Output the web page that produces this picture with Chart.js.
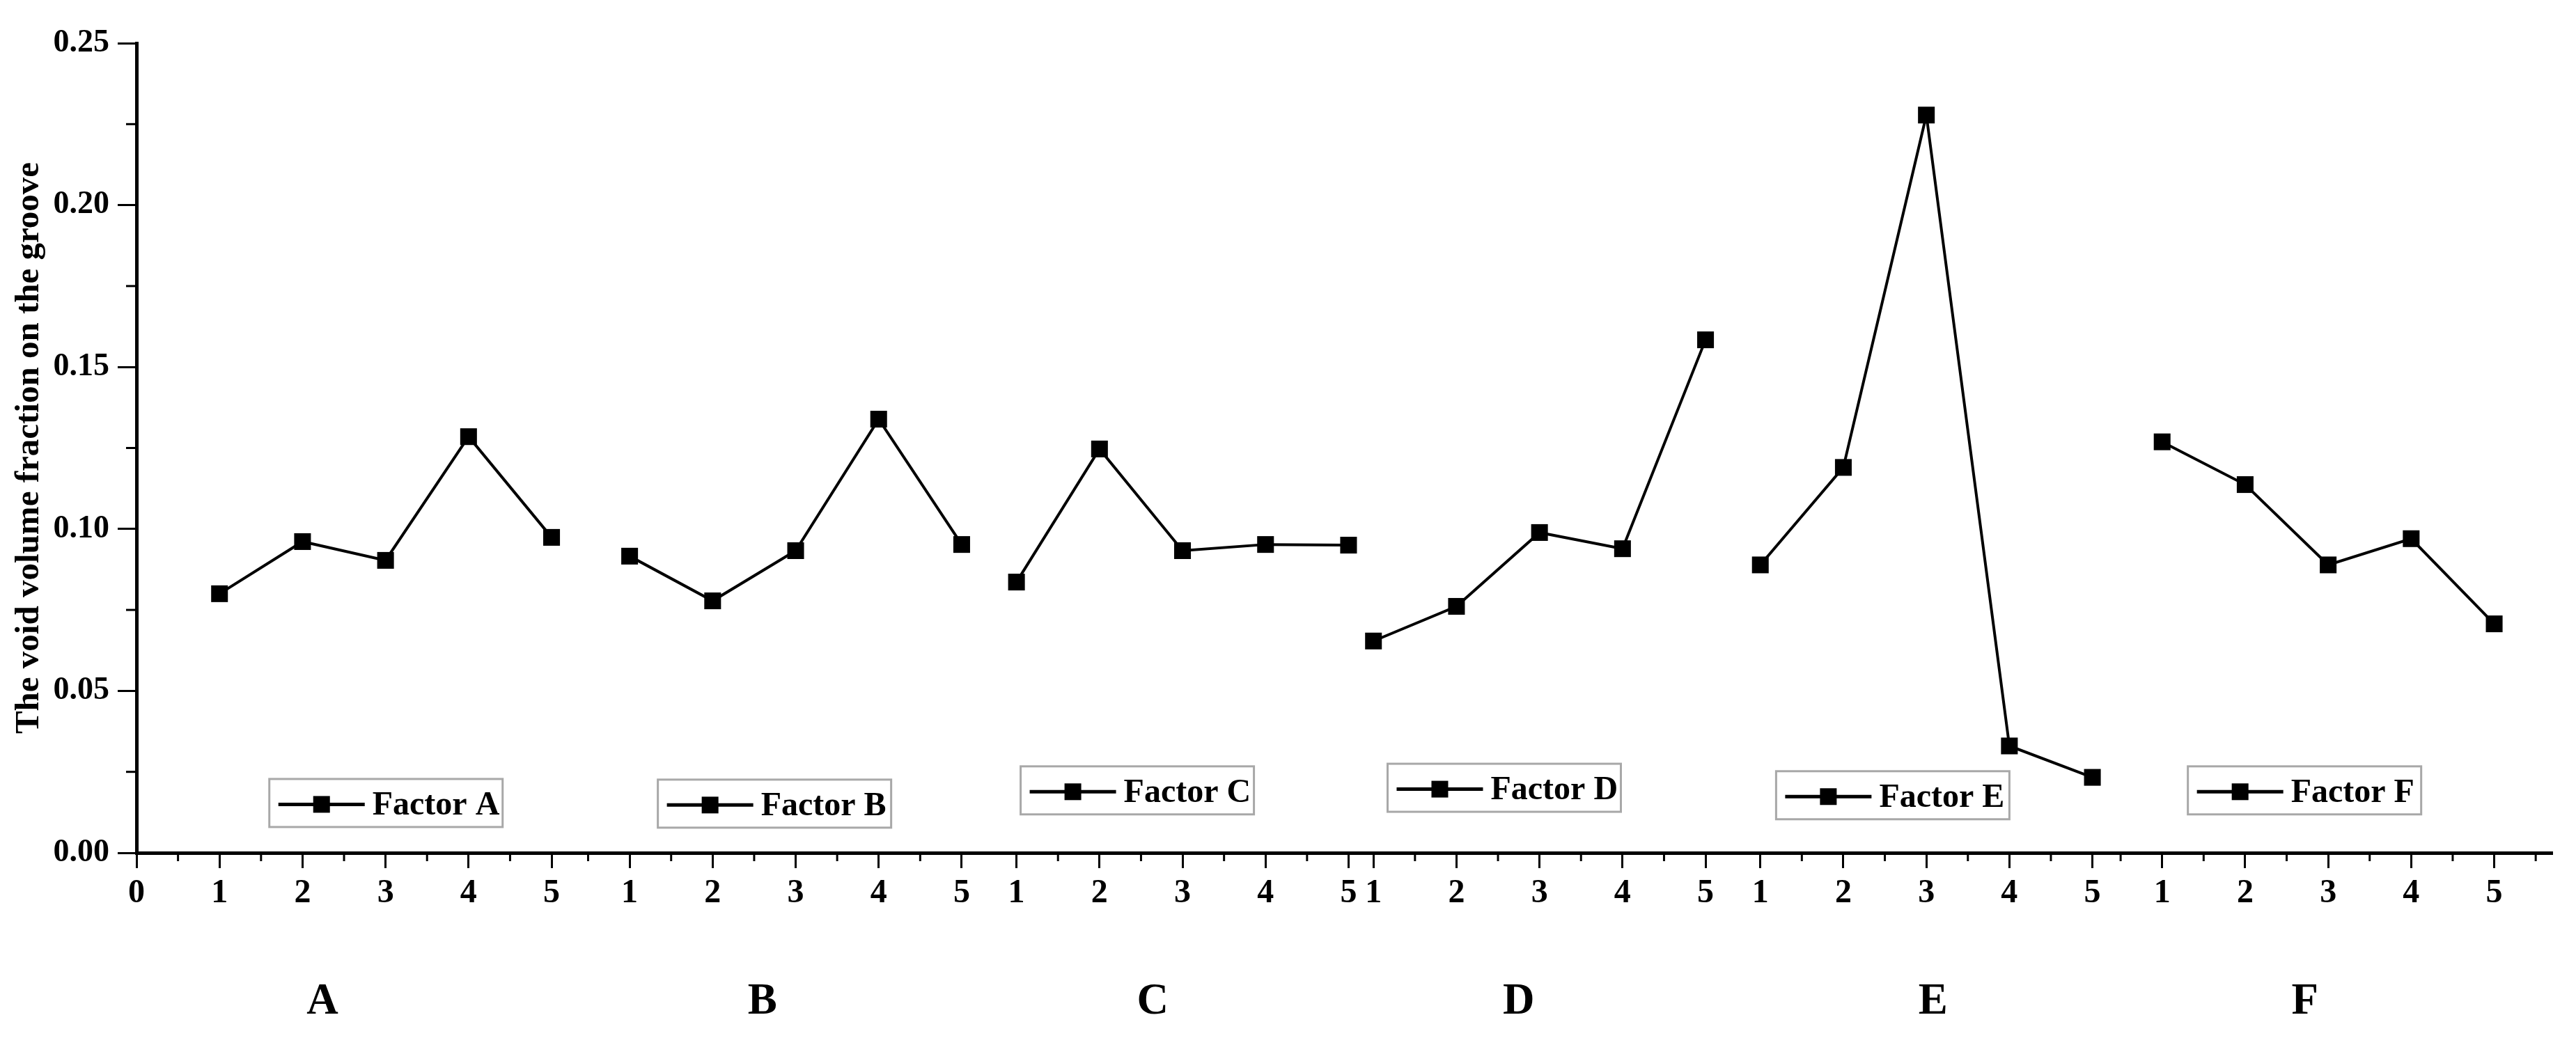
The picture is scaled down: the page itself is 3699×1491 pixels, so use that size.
<!DOCTYPE html>
<html><head><meta charset="utf-8">
<script src="https://cdn.jsdelivr.net/npm/chart.js@4"></script>
<style>html,body{margin:0;padding:0;background:#fff;overflow:hidden}</style>
</head><body>
<canvas id="c" width="3699" height="1491"></canvas>
<script>
// ---- data ----
const factorNames = ['A', 'B', 'C', 'D', 'E', 'F'];
const levels = [1, 2, 3, 4, 5];
const factorA = [0.0800, 0.0961, 0.0903, 0.1285, 0.0974];
const factorB = [0.0916, 0.0778, 0.0933, 0.1339, 0.0952];
const factorC = [0.0836, 0.1247, 0.0933, 0.0952, 0.0950];
const factorD = [0.0654, 0.0761, 0.0989, 0.0939, 0.1584];
const factorE = [0.0889, 0.1190, 0.2278, 0.0330, 0.0233];
const factorF = [0.1269, 0.1137, 0.0889, 0.0970, 0.0707];
const factorValues = [factorA, factorB, factorC, factorD, factorE, factorF];
const yTickValues = [0, 0.05, 0.10, 0.15, 0.20, 0.25];
const yTitle = 'The void volume fraction on the groove';

// ---- layout (axis units) ----
const groupStart = [1, 5.94, 10.60, 14.90, 19.56, 24.40];
const groupLabelPos = [2.24, 7.54, 12.24, 16.65, 21.64, 26.12];
const legendLeft = [1.60, 6.28, 10.65, 15.07, 19.75, 24.71];
const legendTop = [0.0228, 0.0226, 0.0267, 0.0275, 0.0252, 0.0267];
const xMax = 29.10;

const FONT = '"Liberation Serif", "Times New Roman", serif';

const majorX = [0];
const xTickLabels = ['0'];
groupStart.forEach(s => levels.forEach(l => { majorX.push(s + l - 1); xTickLabels.push(String(l)); }));
const minorX = [];
groupStart.forEach((s, gi) => {
  for (let k = 0; k < levels.length - 1; k++) minorX.push(s + k + 0.5);
});
minorX.push(0.5, groupStart[1] - 0.5, groupStart[5] - 0.5, groupStart[5] + 4.5);

const datasets = factorNames.map((n, i) => ({
  label: 'Factor ' + n,
  data: levels.map((l, k) => ({ x: groupStart[i] + l - 1, y: factorValues[i][k] })),
  borderColor: '#000',
  backgroundColor: '#000',
  borderWidth: 4,
  pointStyle: 'rect',
  pointRadius: 17,
  pointBorderWidth: 0,
  tension: 0
}));

const decor = {
  id: 'decor',
  afterDraw(chart) {
    const { ctx, scales: { x, y } } = chart;
    const yb = y.bottom;
    ctx.save();
    ctx.strokeStyle = '#000';
    ctx.lineWidth = 3;
    minorX.forEach(v => {
      const px = x.getPixelForValue(v);
      ctx.beginPath(); ctx.moveTo(px, yb); ctx.lineTo(px, yb + 12); ctx.stroke();
    });
    for (let i = 0; i < yTickValues.length - 1; i++) {
      const v = (yTickValues[i] + yTickValues[i + 1]) / 2;
      const py = y.getPixelForValue(v);
      ctx.beginPath(); ctx.moveTo(x.left - 15, py); ctx.lineTo(x.left, py); ctx.stroke();
    }
    // group letters
    ctx.fillStyle = '#000';
    ctx.font = 'bold 63px ' + FONT;
    ctx.textAlign = 'center';
    ctx.textBaseline = 'middle';
    factorNames.forEach((n, i) => ctx.fillText(n, x.getPixelForValue(groupLabelPos[i]), yb + 215));
    // legends
    factorNames.forEach((n, i) => {
      const lx = x.getPixelForValue(legendLeft[i]);
      const ty = y.getPixelForValue(legendTop[i]);
      const w = 335, h = 69;
      ctx.strokeStyle = '#a8a8a8'; ctx.lineWidth = 3;
      ctx.strokeRect(lx, ty, w, h);
      const cy = ty + h / 2 + 2;
      ctx.strokeStyle = '#000'; ctx.lineWidth = 5;
      ctx.beginPath(); ctx.moveTo(lx + 13, cy); ctx.lineTo(lx + 137, cy); ctx.stroke();
      ctx.fillStyle = '#000';
      ctx.fillRect(lx + 75 - 12, cy - 12, 24, 24);
      ctx.font = 'bold 48px ' + FONT;
      ctx.textAlign = 'left';
      ctx.textBaseline = 'middle';
      ctx.fillText('Factor ' + n, lx + 148, cy + 2);
    });
    ctx.restore();
  }
};

new Chart(document.getElementById('c'), {
  type: 'line',
  data: { datasets },
  options: {
    responsive: false,
    animation: false,
    devicePixelRatio: 1,
    layout: { padding: { top: 62, right: 34, left: 0, bottom: 0 } },
    plugins: { legend: { display: false }, tooltip: { enabled: false } },
    scales: {
      x: {
        type: 'linear',
        min: 0,
        max: xMax,
        afterBuildTicks: s => { s.ticks = majorX.map(v => ({ value: v })); },
        afterFit: s => { s.height = 266; },
        grid: { display: true, drawOnChartArea: false, drawTicks: true, tickLength: 22, tickWidth: 3, tickColor: '#000' },
        border: { display: true, width: 5, color: '#000' },
        ticks: {
          autoSkip: false, maxRotation: 0, minRotation: 0, padding: 8, color: '#000',
          font: { family: FONT, size: 48, weight: 'bold' },
          callback: (v, i) => xTickLabels[i]
        }
      },
      y: {
        type: 'linear',
        min: 0,
        max: 0.25,
        afterBuildTicks: s => { s.ticks = yTickValues.map(v => ({ value: v })); },
        afterFit: s => { s.width = 196; },
        grid: { display: true, drawOnChartArea: false, drawTicks: true, tickLength: 27, tickWidth: 3, tickColor: '#000' },
        border: { display: true, width: 5, color: '#000' },
        ticks: {
          padding: 12, color: '#000',
          font: { family: FONT, size: 46, weight: 'bold' },
          callback: v => v.toFixed(2)
        },
        title: {
          display: true, text: yTitle, color: '#000',
          font: { family: FONT, size: 49, weight: 'bold' },
          padding: { top: 13, bottom: 0 }
        }
      }
    }
  },
  plugins: [decor]
});
</script>
</body></html>
